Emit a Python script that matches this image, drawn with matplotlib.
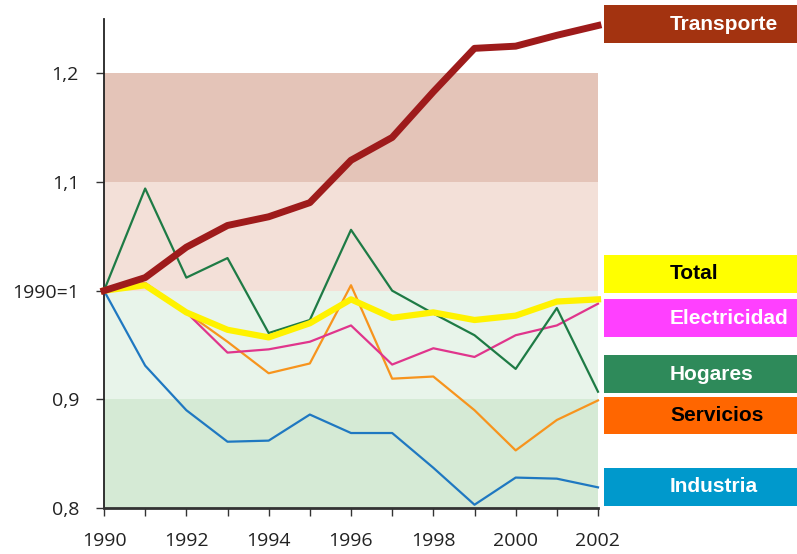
import numpy as np
import matplotlib
matplotlib.use("Agg")
import matplotlib.pyplot as plt
from matplotlib.patches import Rectangle

# data (index 1990 = 1)
years = list(range(1990, 2003))
transporte = [1.000, 1.012, 1.040, 1.060, 1.068, 1.081, 1.120, 1.141, 1.183, 1.223, 1.225, 1.235, 1.244]
total = [1.000, 1.005, 0.980, 0.964, 0.957, 0.970, 0.992, 0.975, 0.980, 0.973, 0.977, 0.990, 0.992]
electricidad = [1.000, 1.007, 0.980, 0.943, 0.946, 0.953, 0.968, 0.932, 0.947, 0.939, 0.959, 0.968, 0.988]
hogares = [1.000, 1.094, 1.012, 1.030, 0.961, 0.973, 1.056, 1.000, 0.979, 0.959, 0.928, 0.984, 0.907]
servicios = [1.000, 1.007, 0.980, 0.953, 0.924, 0.933, 1.005, 0.919, 0.921, 0.890, 0.853, 0.881, 0.899]
industria = [1.000, 0.931, 0.890, 0.861, 0.862, 0.886, 0.869, 0.869, 0.837, 0.803, 0.828, 0.827, 0.819]

bands = [(0.8, 0.9, "#d5ead5"), (0.9, 1.0, "#e8f4ea"), (1.0, 1.1, "#f3e0d8"), (1.1, 1.2, "#e4c4b8")]
ytick_vals = [0.8, 0.9, 1.0, 1.1, 1.2]
ytick_labels = ["0,8", "0,9", "1990=1", "1,1", "1,2"]

W, H = 797, 554
fig = plt.figure(figsize=(W / 100, H / 100), dpi=100)
ax = fig.add_axes([104 / W, 1 - 508 / H, (598 - 104) / W, (508 - 19) / H])

for lo, hi, c in bands:
    ax.axhspan(lo, hi, color=c, lw=0, zorder=0)

ax.plot(years, industria, color="#1f78c1", lw=1.6, zorder=3, clip_on=False)
ax.plot(years, servicios, color="#f7941d", lw=1.6, zorder=3, clip_on=False)
ax.plot(years, electricidad, color="#e0358c", lw=1.6, zorder=3, clip_on=False)
ax.plot(years, hogares, color="#1e7b45", lw=1.6, zorder=4, clip_on=False)
ax.plot(years, total, color="#fff200", lw=4.5, zorder=5, clip_on=False, solid_joinstyle="round")
ax.plot(years, transporte, color="#9e1b1b", lw=5, zorder=6, clip_on=False, solid_joinstyle="round")

ax.set_xlim(1990, 2002)
ax.set_ylim(0.8, 1.25)
ax.set_xticks(years)
ax.set_xticklabels([str(y) if y % 2 == 0 else "" for y in years])
ax.set_yticks(ytick_vals)
ax.set_yticklabels(ytick_labels)
ax.tick_params(axis="both", direction="out", length=6, width=1, color="#333333",
               labelsize=14, labelcolor="#222222")
ax.tick_params(axis="x", pad=11)
ax.tick_params(axis="y", pad=12)
for lab in ax.get_xticklabels() + ax.get_yticklabels():
    lab.set_family("Open Sans")

for s in ["top", "right"]:
    ax.spines[s].set_visible(False)
ax.spines["left"].set_color("#222222")
ax.spines["left"].set_linewidth(1.3)
ax.spines["bottom"].set_color("#333333")
ax.spines["bottom"].set_linewidth(2)
ax.set_facecolor("white")

# legend boxes on the right
legend_items = [
    ("Transporte", "#a33310", "white", 5, 43),
    ("Total", "#ffff00", "black", 255, 293),
    ("Electricidad", "#ff40ff", "white", 299, 337),
    ("Hogares", "#2e8a5a", "white", 355, 393),
    ("Servicios", "#ff6600", "black", 397, 434),
    ("Industria", "#0099cc", "white", 468, 506),
]
for name, fc, tc, top, bot in legend_items:
    fig.patches.append(Rectangle((604 / W, 1 - bot / H), (W - 604) / W, (bot - top) / H,
                                 transform=fig.transFigure, facecolor=fc, edgecolor="none"))
    fig.text(670 / W, 1 - (top + bot) / 2 / H, name, color=tc, fontsize=15,
             fontweight="bold", family="Liberation Sans", ha="left", va="center")

fig.savefig("out.png", dpi=100)
